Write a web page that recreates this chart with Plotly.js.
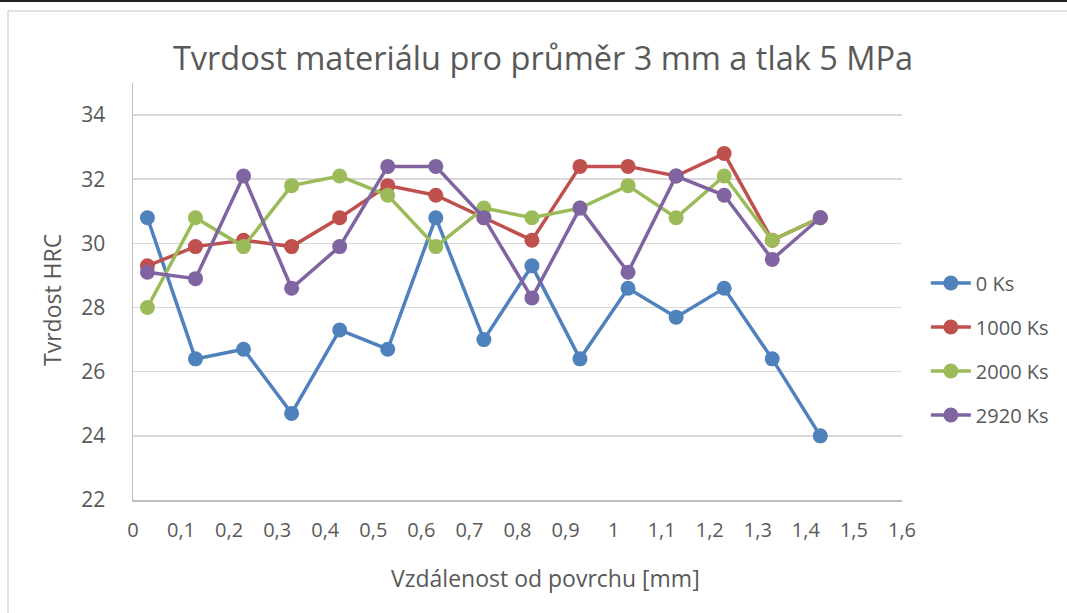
<!DOCTYPE html>
<html>
<head>
<meta charset="utf-8">
<script src="https://cdn.plot.ly/plotly-3.0.1.min.js"></script>
<style>html,body{margin:0;padding:0;background:#fff;}#chart{width:1067px;height:613px;}</style>
</head>
<body>
<div id="chart"></div>
<script>
var xValues = [0.03, 0.13, 0.23, 0.33, 0.43, 0.53, 0.63, 0.73, 0.83, 0.93, 1.03, 1.13, 1.23, 1.33, 1.43];
var seriesNames = ["0 Ks", "1000 Ks", "2000 Ks", "2920 Ks"];
var ks0 = [30.8, 26.4, 26.7, 24.7, 27.3, 26.7, 30.8, 27.0, 29.3, 26.4, 28.6, 27.7, 28.6, 26.4, 24.0];
var ks1000 = [29.3, 29.9, 30.1, 29.9, 30.8, 31.8, 31.5, 30.8, 30.1, 32.4, 32.4, 32.1, 32.8, 30.1, 30.8];
var ks2000 = [28.0, 30.8, 29.9, 31.8, 32.1, 31.5, 29.9, 31.1, 30.8, 31.1, 31.8, 30.8, 32.1, 30.1, 30.8];
var ks2920 = [29.1, 28.9, 32.1, 28.6, 29.9, 32.4, 32.4, 30.8, 28.3, 31.1, 29.1, 32.1, 31.5, 29.5, 30.8];
var xTicks = [0, 0.1, 0.2, 0.3, 0.4, 0.5, 0.6, 0.7, 0.8, 0.9, 1, 1.1, 1.2, 1.3, 1.4, 1.5, 1.6];
var xTickText = ["0", "0,1", "0,2", "0,3", "0,4", "0,5", "0,6", "0,7", "0,8", "0,9", "1", "1,1", "1,2", "1,3", "1,4", "1,5", "1,6"];
var yTicks = [22, 24, 26, 28, 30, 32, 34];

var colors = ["#4f81bd", "#c0504d", "#9bbb59", "#8064a2"];
var allY = [ks0, ks1000, ks2000, ks2920];
var FONT = "Open Sans, Liberation Sans, sans-serif";

var traces = allY.map(function (ys, i) {
  return {
    x: xValues, y: ys, name: seriesNames[i], type: "scatter", mode: "lines+markers",
    legendgroup: "g" + i,
    line: {color: colors[i], width: 3.5},
    marker: {color: colors[i], size: 15},
    cliponaxis: false
  };
});

var layout = {
  width: 1067, height: 613,
  margin: {l: 133, r: 165, t: 83, b: 113},
  paper_bgcolor: "#ffffff", plot_bgcolor: "#ffffff",
  font: {family: FONT, color: "#595959"},
  title: {text: "Tvrdost materiálu pro průměr 3 mm a tlak 5 MPa", font: {size: 32.5, color: "#595959", family: FONT}, x: 543 / 1067, xref: "container", xanchor: "center", y: 0.905, yanchor: "middle"},
  xaxis: {
    range: [0, 1.6], tickvals: xTicks, ticktext: xTickText, showgrid: false,
    showline: true, linecolor: "#bfbfbf", linewidth: 1.5, ticks: "", zeroline: false,
    tickfont: {size: 20, color: "#595959"}, ticklabelstandoff: 11,
    fixedrange: true
  },
  yaxis: {
    range: [22, 35], tickvals: yTicks, showgrid: true, gridcolor: "#d9d9d9", gridwidth: 1.5,
    showline: true, linecolor: "#bfbfbf", linewidth: 1.5, ticks: "", zeroline: false,
    tickfont: {size: 21, color: "#595959"}, ticklabelstandoff: 22,
    fixedrange: true
  },
  annotations: [
    {text: "Vzdálenost od povrchu [mm]", xref: "paper", yref: "paper", x: (545 - 133) / 769, y: (500 - 578) / 417, xanchor: "center", yanchor: "middle", showarrow: false, font: {size: 23, color: "#595959"}},
    {text: "Tvrdost HRC", xref: "paper", yref: "paper", x: (52 - 133) / 769, y: (500 - 300) / 417, xanchor: "center", yanchor: "middle", textangle: -90, showarrow: false, font: {size: 23, color: "#595959"}}
  ],
  legend: {
    x: 1.031, xanchor: "left", y: 0.362, yanchor: "middle",
    font: {size: 20, color: "#595959"}, tracegroupgap: 15, itemwidth: 40,
    bgcolor: "rgba(0,0,0,0)"
  },
  showlegend: true,
  shapes: [
    {type: "rect", xref: "paper", yref: "paper", x0: (8 - 133) / 769, x1: (1075 - 133) / 769, y0: (500 - 620) / 417, y1: (500 - 11) / 417, line: {color: "#d9d9d9", width: 1.5}, fillcolor: "rgba(0,0,0,0)", layer: "below"},
    {type: "rect", xref: "paper", yref: "paper", x0: (-5 - 133) / 769, x1: (1075 - 133) / 769, y0: (500 - 2) / 417, y1: (500 + 5) / 417, line: {width: 0}, fillcolor: "#222222"}
  ]
};

Plotly.newPlot("chart", traces, layout, {displayModeBar: false, staticPlot: true});
</script>
</body>
</html>
